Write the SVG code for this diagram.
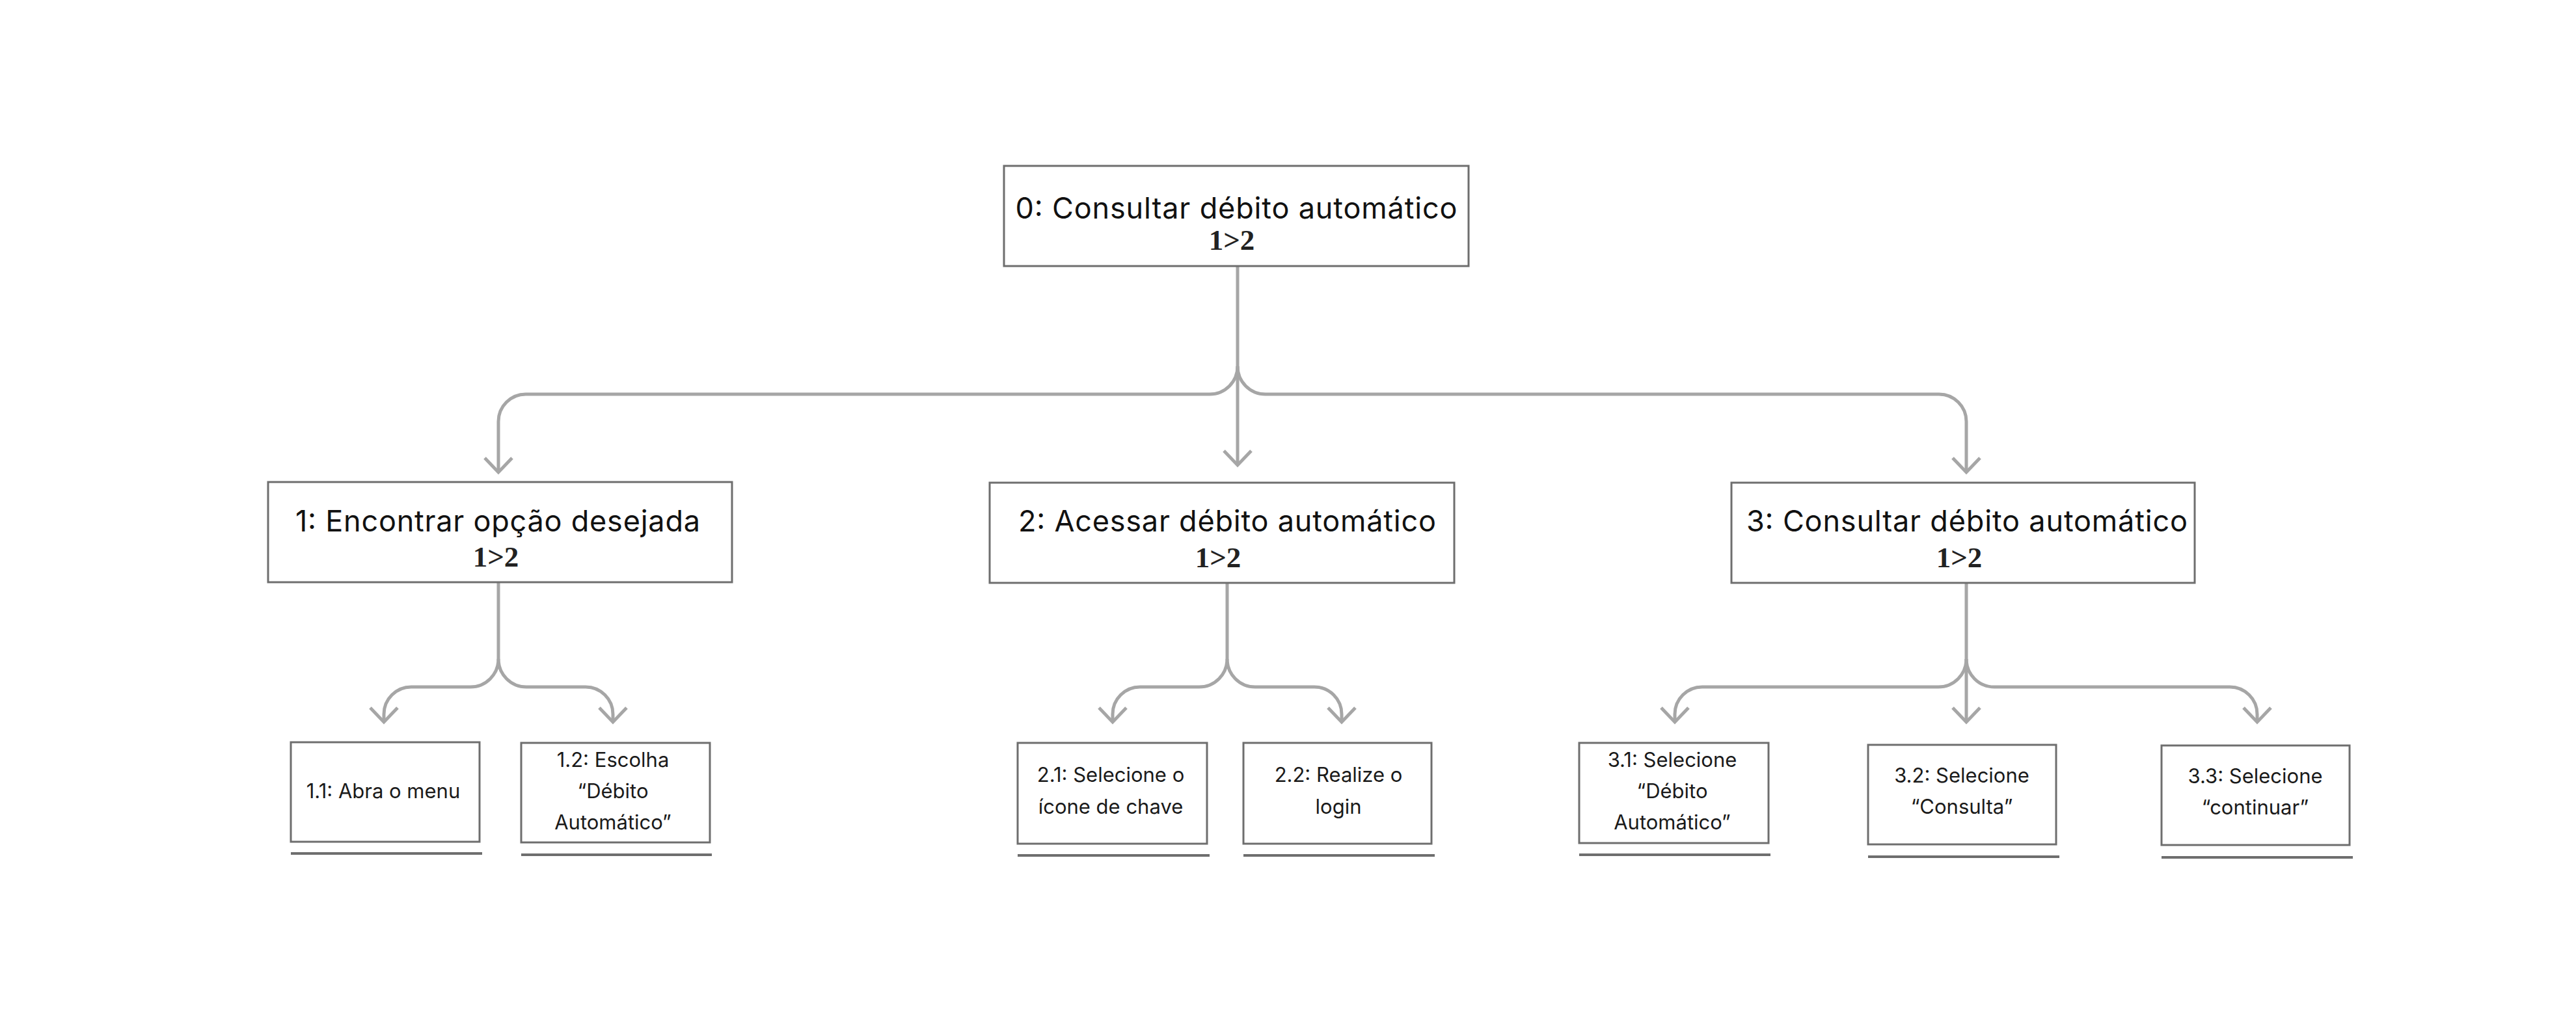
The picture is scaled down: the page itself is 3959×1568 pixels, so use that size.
<svg xmlns="http://www.w3.org/2000/svg" width="3959" height="1568" viewBox="0 0 3959 1568">
<style>
.box{fill:#fff;stroke:#6e6e6e;stroke-width:3}
.ul{stroke:#6e6e6e;stroke-width:4}
.con{fill:none;stroke:#a6a6a6;stroke-width:5}
.arr{marker-end:url(#arr)}
.t1{font-family:Inter,"Liberation Sans",sans-serif;font-size:45px;fill:#111;text-anchor:middle}
.t2{font-family:"Liberation Serif",serif;font-weight:bold;font-size:45px;fill:#222;text-anchor:middle}
.t3{font-family:Inter,"Liberation Sans",sans-serif;font-size:31px;fill:#1a1a1a;text-anchor:middle}
</style>
<defs>
<marker id="arr" markerUnits="userSpaceOnUse" viewBox="-30 -30 60 60" markerWidth="60" markerHeight="60" refX="0" refY="0" orient="auto" overflow="visible">
<path d="M-22,-21 L0,0 L-22,21" fill="none" stroke="#a6a6a6" stroke-width="5" stroke-linejoin="miter"/>
</marker>
</defs>
<rect width="3959" height="1568" fill="#fff"/>
<g id="connectors">
<path class="con arr" d="M1902,409 V715"/>
<path class="con arr" d="M1902,563 A43,43 0 0 1 1859,606 H808 A42,42 0 0 0 766,648 V726"/>
<path class="con arr" d="M1902,563 A43,43 0 0 0 1945,606 H2980 A42,42 0 0 1 3022,648 V726"/>
<path class="con" d="M766,895 V1013"/>
<path class="con arr" d="M766,1013 A43,43 0 0 1 723,1056 H632 A42,42 0 0 0 590,1098 V1110"/>
<path class="con arr" d="M766,1013 A43,43 0 0 0 809,1056 H900 A42,42 0 0 1 942,1098 V1110"/>
<path class="con" d="M1886,896 V1013"/>
<path class="con arr" d="M1886,1013 A43,43 0 0 1 1843,1056 H1752 A42,42 0 0 0 1710,1098 V1110"/>
<path class="con arr" d="M1886,1013 A43,43 0 0 0 1929,1056 H2020 A42,42 0 0 1 2062,1098 V1110"/>
<path class="con arr" d="M3022,896 V1110"/>
<path class="con arr" d="M3022,1013 A43,43 0 0 1 2979,1056 H2616 A42,42 0 0 0 2574,1098 V1110"/>
<path class="con arr" d="M3022,1013 A43,43 0 0 0 3065,1056 H3427 A42,42 0 0 1 3469,1098 V1110"/>
</g>
<g id="n0">
<rect class="box" x="1543" y="255" width="714" height="154"/>
<text class="t1" x="1900" y="336" textLength="679">0: Consultar débito automático</text>
<text class="t2" x="1893" y="384">1&gt;2</text>
</g>
<g id="n1">
<rect class="box" x="412" y="741" width="713" height="154"/>
<text class="t1" x="765" y="817" textLength="622">1: Encontrar opção desejada</text>
<text class="t2" x="762" y="871">1&gt;2</text>
</g>
<g id="n2">
<rect class="box" x="1521" y="742" width="714" height="154"/>
<text class="t1" x="1886" y="817" textLength="642">2: Acessar débito automático</text>
<text class="t2" x="1872" y="872">1&gt;2</text>
</g>
<g id="n3">
<rect class="box" x="2661" y="742" width="712" height="154"/>
<text class="t1" x="3023" y="817" textLength="678">3: Consultar débito automático</text>
<text class="t2" x="3011" y="872">1&gt;2</text>
</g>
<g id="n11">
<rect class="box" x="447" y="1141" width="290" height="153"/>
<line class="ul" x1="447" y1="1312" x2="741" y2="1312"/>
<text class="t3" x="589" y="1227">1.1: Abra o menu</text>
</g>
<g id="n12">
<rect class="box" x="801" y="1142" width="290" height="153"/>
<line class="ul" x1="801" y1="1314" x2="1094" y2="1314"/>
<text class="t3" x="942" y="1179">1.2: Escolha</text>
<text class="t3" x="942" y="1227">“Débito</text>
<text class="t3" x="942" y="1275">Automático”</text>
</g>
<g id="n21">
<rect class="box" x="1564" y="1142" width="291" height="155"/>
<line class="ul" x1="1564" y1="1315" x2="1859" y2="1315"/>
<text class="t3" x="1707" y="1202">2.1: Selecione o</text>
<text class="t3" x="1707" y="1251">ícone de chave</text>
</g>
<g id="n22">
<rect class="box" x="1911" y="1142" width="289" height="155"/>
<line class="ul" x1="1911" y1="1315" x2="2205" y2="1315"/>
<text class="t3" x="2057" y="1202">2.2: Realize o</text>
<text class="t3" x="2057" y="1251">login</text>
</g>
<g id="n31">
<rect class="box" x="2427" y="1142" width="291" height="154"/>
<line class="ul" x1="2427" y1="1314" x2="2721" y2="1314"/>
<text class="t3" x="2570" y="1179">3.1: Selecione</text>
<text class="t3" x="2570" y="1227">“Débito</text>
<text class="t3" x="2570" y="1275">Automático”</text>
</g>
<g id="n32">
<rect class="box" x="2871" y="1145" width="289" height="153"/>
<line class="ul" x1="2871" y1="1317" x2="3165" y2="1317"/>
<text class="t3" x="3015" y="1203">3.2: Selecione</text>
<text class="t3" x="3015" y="1251">“Consulta”</text>
</g>
<g id="n33">
<rect class="box" x="3322" y="1146" width="289" height="153"/>
<line class="ul" x1="3322" y1="1318" x2="3616" y2="1318"/>
<text class="t3" x="3466" y="1204">3.3: Selecione</text>
<text class="t3" x="3466" y="1252">“continuar”</text>
</g>
</svg>
